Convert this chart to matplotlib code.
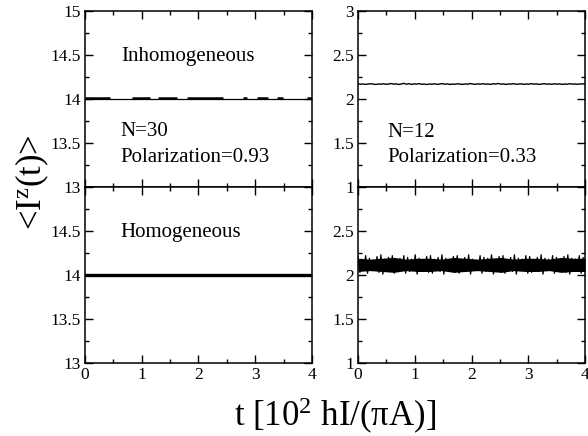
import numpy as np
import matplotlib
matplotlib.use('Agg')
import matplotlib.pyplot as plt
from matplotlib.ticker import MultipleLocator, FuncFormatter

plt.rcParams['font.family'] = ['Liberation Serif', 'DejaVu Serif']
plt.rcParams['mathtext.fontset'] = 'custom'
plt.rcParams['mathtext.rm'] = 'Liberation Serif'
plt.rcParams['mathtext.it'] = 'Liberation Serif:italic'

# ---- data ----
# N=30, inhomogeneous: flat at 14.0, drawn with broken (dash-like) segments
n30_inhom_level = 14.0
n30_inhom_dash = [(0.0, 0.44), (0.83, 1.15), (1.29, 1.62), (1.80, 2.43),
                  (2.78, 2.85), (3.03, 3.22), (3.38, 3.49), (3.91, 4.0)]
# N=30, homogeneous: flat thick line at 14.0
n30_hom_level = 14.0

# N=12, inhomogeneous: small noise around 2.17
n12_inhom = [2.172, 2.168, 2.171, 2.166, 2.170, 2.174, 2.169, 2.165, 2.171, 2.168,
             2.173, 2.167, 2.170, 2.176, 2.169, 2.172, 2.165, 2.171, 2.178, 2.168,
             2.174, 2.166, 2.172, 2.169, 2.175, 2.167, 2.170, 2.164, 2.171, 2.168,
             2.173, 2.166, 2.170, 2.175, 2.168, 2.172, 2.165, 2.170, 2.167, 2.173,
             2.169, 2.166, 2.171, 2.168, 2.176, 2.170, 2.167, 2.172, 2.169, 2.174,
             2.168, 2.171, 2.166, 2.173, 2.170, 2.177, 2.168, 2.172, 2.165, 2.171,
             2.169, 2.174, 2.167, 2.170, 2.173, 2.166, 2.171, 2.168, 2.175, 2.169,
             2.172, 2.166, 2.170, 2.174, 2.168, 2.171, 2.167, 2.173, 2.169, 2.172,
             2.166, 2.170, 2.168, 2.174, 2.169, 2.171, 2.167, 2.172, 2.170, 2.175]

# N=12, homogeneous: fast oscillation, upper / lower extrema (spikes)
n12_hom_hi = [2.21, 2.18, 2.22, 2.19, 2.17, 2.21, 2.23, 2.18, 2.20, 2.22,
              2.17, 2.19, 2.22, 2.20, 2.18, 2.23, 2.19, 2.17, 2.21, 2.22,
              2.18, 2.20, 2.23, 2.19, 2.17, 2.21, 2.22, 2.18, 2.20, 2.23,
              2.18, 2.17, 2.22, 2.20, 2.19, 2.23, 2.18, 2.21, 2.22, 2.17,
              2.20, 2.23, 2.19, 2.18, 2.22, 2.21, 2.17, 2.20, 2.23, 2.19,
              2.18, 2.22, 2.20, 2.17, 2.21, 2.23, 2.19, 2.18, 2.22, 2.20]
n12_hom_lo = [2.03, 2.06, 2.02, 2.05, 2.07, 2.03, 2.01, 2.06, 2.04, 2.02,
              2.07, 2.05, 2.02, 2.04, 2.06, 2.01, 2.05, 2.07, 2.03, 2.02,
              2.06, 2.04, 2.01, 2.05, 2.07, 2.03, 2.02, 2.06, 2.04, 2.01,
              2.06, 2.07, 2.02, 2.04, 2.05, 2.01, 2.06, 2.03, 2.02, 2.07,
              2.04, 2.01, 2.05, 2.06, 2.02, 2.03, 2.07, 2.04, 2.01, 2.05,
              2.06, 2.02, 2.04, 2.07, 2.03, 2.01, 2.05, 2.06, 2.02, 2.04]
# dense (filled-looking) core of the oscillation
n12_core_hi = [2.19, 2.18, 2.19, 2.20, 2.18, 2.19, 2.19, 2.18, 2.20, 2.19,
               2.18, 2.19, 2.20, 2.18, 2.19, 2.19, 2.18, 2.20, 2.19, 2.19]
n12_core_lo = [2.04, 2.05, 2.04, 2.03, 2.05, 2.04, 2.04, 2.05, 2.03, 2.04,
               2.05, 2.04, 2.03, 2.05, 2.04, 2.04, 2.05, 2.03, 2.04, 2.04]

t_max = 4.0


def style(ax, ylim, show_xlabels, hide_top_label):
    ax.set_xlim(0, t_max)
    ax.set_ylim(*ylim)
    ax.xaxis.set_major_locator(MultipleLocator(1))
    ax.xaxis.set_minor_locator(MultipleLocator(0.5))
    ax.yaxis.set_major_locator(MultipleLocator(0.5))
    ax.yaxis.set_minor_locator(MultipleLocator(0.25))
    top = ylim[1]
    ax.yaxis.set_major_formatter(FuncFormatter(
        lambda v, p: '' if (hide_top_label and abs(v - top) < 1e-9) else f'{v:g}'))
    ax.tick_params(which='both', direction='in', top=True, right=True,
                   width=1.0, labelsize=12.5, pad=3)
    ax.tick_params(which='major', length=6)
    ax.tick_params(which='minor', length=3)
    if not show_xlabels:
        ax.tick_params(labelbottom=False)
    for s in ax.spines.values():
        s.set_linewidth(1.1)


fig = plt.figure(figsize=(5.88, 4.36), dpi=100)
W, H = 588, 436
w = 227 / W
h = 176 / H
ax_tl = fig.add_axes([85 / W, 1 - 187 / H, w, h])
ax_bl = fig.add_axes([85 / W, 1 - 363 / H, w, h])
ax_tr = fig.add_axes([358 / W, 1 - 187 / H, w, h])
ax_br = fig.add_axes([358 / W, 1 - 363 / H, w, h])

# top left: N=30 inhomogeneous
ax_tl.plot([0, t_max], [n30_inhom_level] * 2, color='k', lw=0.9)
for a, b in n30_inhom_dash:
    ax_tl.plot([a, b], [n30_inhom_level + 0.006] * 2, color='k', lw=1.8,
               solid_capstyle='butt')
style(ax_tl, (13, 15), False, False)
ax_tl.text(0.63, 14.48, 'Inhomogeneous', fontsize=15, va='center')
ax_tl.text(0.63, 13.63, 'N=30', fontsize=15, va='center')
ax_tl.text(0.63, 13.34, 'Polarization=0.93', fontsize=15, va='center')

# bottom left: N=30 homogeneous
ax_bl.plot([0, t_max], [n30_hom_level] * 2, color='k', lw=2.4)
style(ax_bl, (13, 15), True, True)
ax_bl.text(0.63, 14.48, 'Homogeneous', fontsize=15, va='center')

# top right: N=12 inhomogeneous
t1 = np.linspace(0, t_max, len(n12_inhom))
ax_tr.plot(t1, n12_inhom, color='k', lw=1.0)
style(ax_tr, (1, 3), False, False)
ax_tr.text(0.51, 1.62, 'N=12', fontsize=15, va='center')
ax_tr.text(0.51, 1.34, 'Polarization=0.33', fontsize=15, va='center')

# bottom right: N=12 homogeneous
tc = np.linspace(0, t_max, len(n12_core_hi))
ax_br.fill_between(tc, n12_core_lo, n12_core_hi, color='k', lw=0)
osc = np.ravel(np.column_stack([n12_hom_hi, n12_hom_lo]))
t2 = np.linspace(0, t_max, len(osc))
ax_br.plot(t2, osc, color='k', lw=0.9)
style(ax_br, (1, 3), True, True)

fig.text(32 / W, 1 - 182 / H, r'<I$^{\mathrm{z}}$(t)>', rotation=90,
         fontsize=25, ha='center', va='center')
fig.text(335 / W, 1 - 416 / H, r't [10$^{\mathrm{2}}$ hI/($\mathrm{\pi}$A)]',
         fontsize=25, ha='center', va='center')

fig.savefig('out.png', dpi=100)
